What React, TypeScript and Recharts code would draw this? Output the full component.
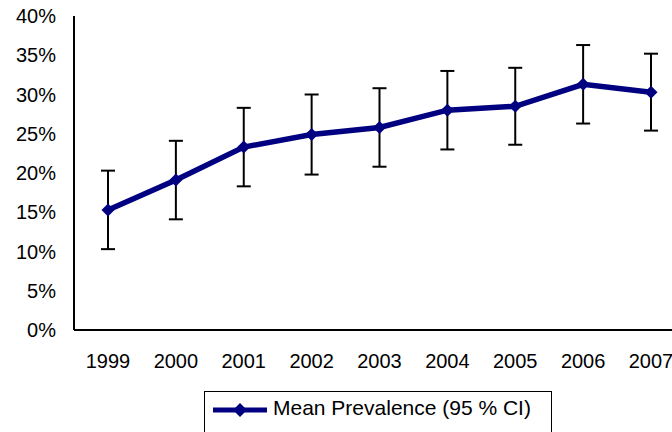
import React from 'react';
import { LineChart, Line, XAxis, YAxis, ErrorBar, Legend } from 'recharts';

// survey years and mean prevalence (%) with 95% CI half-width
const years = ['1999', '2000', '2001', '2002', '2003', '2004', '2005', '2006', '2007'];
const meanPrevalence = [15.3, 19.1, 23.3, 24.9, 25.8, 28.0, 28.5, 31.3, 30.3];
const ciHalfWidth = [5.0, 5.0, 5.0, 5.1, 5.0, 5.0, 4.9, 5.0, 4.9];
const yTicks = [0, 5, 10, 15, 20, 25, 30, 35, 40];

const seriesName = 'Mean Prevalence (95 % CI)';
const navy = '#000080';
const font = '"Liberation Sans", Arial, sans-serif';

const data = years.map((year, i) => ({
  year,
  mean: meanPrevalence[i],
  ci: ciHalfWidth[i],
}));

const Diamond = (props: any) => {
  const { cx, cy } = props;
  if (cx == null || cy == null) return null;
  const r = 6.5;
  return (
    <path
      d={`M${cx},${cy - r} L${cx + r},${cy} L${cx},${cy + r} L${cx - r},${cy} Z`}
      fill={navy}
      stroke="none"
    />
  );
};

const renderLegend = () => (
  <div
    style={{
      width: 346,
      height: 50,
      border: '1px solid #000',
      background: '#fff',
      fontFamily: font,
      fontSize: 21,
      color: '#000',
      position: 'relative',
    }}
  >
    <svg width={60} height={20} style={{ position: 'absolute', left: 8, top: 8 }}>
      <line x1={0} y1={10} x2={54} y2={10} stroke={navy} strokeWidth={5} />
      <path d="M27,3 L34,10 L27,17 L20,10 Z" fill={navy} />
    </svg>
    <span style={{ position: 'absolute', left: 68, top: 4, whiteSpace: 'nowrap' }}>{seriesName}</span>
  </div>
);

export default function App() {
  return (
    <div style={{ position: 'fixed', left: 0, top: 0, width: 672, height: 432, overflow: 'hidden', background: '#fff' }}>
      <LineChart width={700} height={460} data={data} margin={{ top: 16, right: 15, bottom: 0, left: 0 }}>
        <XAxis
          dataKey="year"
          padding={{ left: 34, right: 34 }}
          axisLine={{ stroke: '#000', strokeWidth: 2 }}
          tickLine={false}
          tickSize={0}
          tickMargin={24}
          height={130}
          interval={0}
          tick={{ fill: '#000', fontSize: 20, fontFamily: font }}
        />
        <YAxis
          domain={[0, 40]}
          ticks={yTicks}
          tickFormatter={(v: number) => `${v}%`}
          axisLine={{ stroke: '#000', strokeWidth: 2 }}
          tickLine={false}
          tickSize={0}
          tickMargin={18}
          width={74}
          interval={0}
          tick={{ fill: '#000', fontSize: 20, fontFamily: font }}
        />
        {/* error bars sit underneath the mean line */}
        <Line
          dataKey="mean"
          stroke="none"
          dot={false}
          activeDot={false}
          legendType="none"
          isAnimationActive={false}
        >
          <ErrorBar dataKey="ci" width={7} stroke="#000" strokeWidth={2} direction="y" />
        </Line>
        <Line
          dataKey="mean"
          name={seriesName}
          stroke={navy}
          strokeWidth={5.5}
          dot={<Diamond />}
          activeDot={false}
          isAnimationActive={false}
        />
        <Legend
          layout="horizontal"
          verticalAlign="middle"
          align="center"
          content={renderLegend}
          wrapperStyle={{ left: 204, top: 391, width: 348, height: 52 }}
        />
      </LineChart>
    </div>
  );
}
